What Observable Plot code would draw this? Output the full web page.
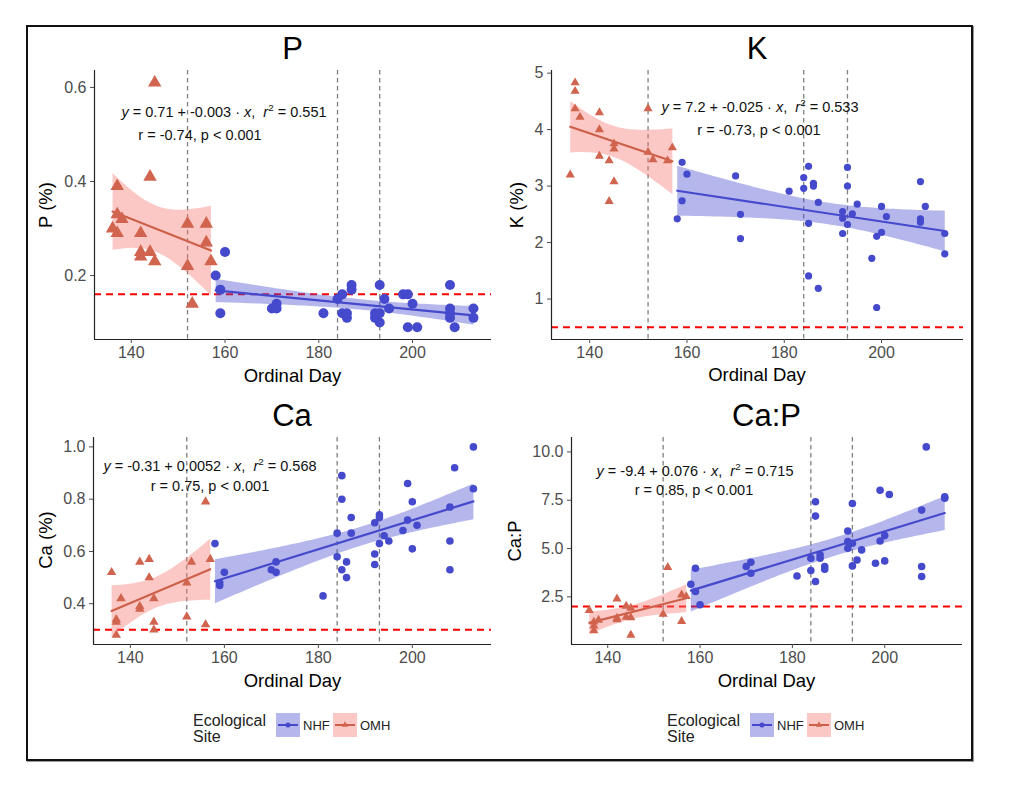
<!DOCTYPE html>
<html><head><meta charset="utf-8">
<script src="https://cdn.jsdelivr.net/npm/d3@7"></script>
<script src="https://cdn.jsdelivr.net/npm/@observablehq/plot@0.6"></script>
<style>
body{margin:0;width:1024px;height:789px;background:#fff;position:relative;font-family:"Liberation Sans",Arial,Helvetica,sans-serif;overflow:hidden}
.abs{position:absolute}
.ctr{transform:translate(-50%,-50%);white-space:nowrap;line-height:1}
.title{font-size:31px;color:#000}
.axt{font-size:18.5px;color:#000}
.eq{font-size:14.5px;color:#111}
.eq sup{font-size:0.68em;vertical-align:0.55em;line-height:0}
.legt{font-size:16px;line-height:16.3px;color:#222}
.legl{font-size:13px;color:#222}
</style></head><body>
<script>
// ---------- data ----------
const SITES = ["NHF", "OMH"];
const VLINE_DAYS = [152, 184, 193];
const X_TICKS = [140, 160, 180, 200];

// [ordinal day, value]
const P_OMH = [[136,0.30],[137,0.39],[137,0.33],[137,0.29],[138,0.32],[142,0.29],[142,0.25],[142,0.24],[144,0.41],[144,0.25],[145,0.61],[145,0.23],[152,0.31],[152,0.22],[153,0.14],[156,0.31],[156,0.27],[157,0.23]];
const P_NHF = [[158,0.20],[159,0.17],[159,0.12],[160,0.25],[170,0.13],[171,0.14],[171,0.13],[181,0.12],[184,0.15],[185,0.16],[185,0.12],[186,0.12],[186,0.11],[187,0.18],[187,0.17],[192,0.12],[192,0.11],[193,0.18],[193,0.12],[193,0.10],[194,0.15],[195,0.13],[198,0.16],[199,0.16],[199,0.09],[200,0.14],[201,0.09],[208,0.18],[208,0.13],[208,0.12],[208,0.11],[209,0.09],[213,0.13],[213,0.11]];
const P_THRESHOLD = 0.16;
const P_TICKS = [0.2, 0.4, 0.6];

const K_OMH = [[136,3.20],[137,4.83],[137,4.68],[137,4.37],[138,4.22],[142,4.30],[142,4.00],[142,3.53],[144,3.45],[144,2.73],[145,3.75],[145,3.66],[145,3.08],[152,4.37],[152,3.60],[153,3.47],[156,3.45],[157,3.68]];
const K_NHF = [[158,2.42],[159,3.42],[159,2.74],[160,3.21],[170,3.18],[171,2.50],[171,2.07],[181,2.91],[184,3.15],[184,2.96],[185,3.35],[185,2.34],[185,1.41],[186,3.05],[186,3.00],[187,2.71],[187,1.19],[192,2.55],[192,2.43],[192,2.16],[193,3.33],[193,3.00],[193,2.32],[194,2.51],[195,2.68],[198,1.72],[199,2.11],[199,0.85],[200,2.64],[200,2.18],[201,2.46],[208,3.08],[208,2.42],[208,2.36],[209,2.64],[213,2.16],[213,1.80]];
const K_THRESHOLD = 0.5;
const K_TICKS = [1, 2, 3, 4, 5];

const CA_OMH = [[136,0.52],[137,0.34],[137,0.33],[137,0.28],[138,0.42],[142,0.56],[142,0.39],[142,0.38],[144,0.57],[144,0.50],[145,0.42],[145,0.33],[145,0.30],[152,0.48],[152,0.35],[153,0.56],[156,0.79],[156,0.32],[157,0.57]];
const CA_NHF = [[158,0.63],[159,0.48],[159,0.47],[160,0.52],[170,0.53],[171,0.56],[171,0.52],[181,0.43],[184,0.67],[184,0.58],[185,0.89],[185,0.80],[185,0.53],[186,0.56],[186,0.50],[187,0.73],[187,0.67],[192,0.71],[192,0.59],[192,0.55],[193,0.74],[193,0.73],[193,0.63],[194,0.66],[195,0.64],[198,0.68],[199,0.86],[199,0.72],[200,0.79],[200,0.61],[201,0.70],[208,0.77],[208,0.64],[208,0.53],[209,0.92],[213,1.00],[213,0.84]];
const CA_THRESHOLD = 0.3;
const CA_TICKS = [0.4, 0.6, 0.8, 1.0];

const CAP_OMH = [[136,1.80],[137,1.20],[137,1.00],[137,0.75],[138,1.30],[142,2.40],[142,1.40],[142,1.32],[144,2.02],[144,1.45],[145,1.92],[145,1.43],[145,0.52],[152,1.60],[153,4.03],[156,2.60],[156,1.23],[157,2.52]];
const CAP_NHF = [[158,3.15],[159,3.98],[159,2.78],[160,2.09],[170,4.07],[171,4.29],[171,3.72],[181,3.58],[184,4.50],[184,3.86],[185,7.42],[185,6.68],[185,3.29],[186,4.67],[186,4.50],[187,4.07],[187,3.93],[192,5.91],[192,5.36],[192,5.01],[193,7.33],[193,5.27],[193,4.10],[194,4.41],[195,4.93],[198,4.24],[199,8.02],[199,5.39],[200,5.67],[200,4.36],[201,7.80],[208,6.99],[208,4.07],[208,3.55],[209,10.26],[213,7.68],[213,7.60]];
const CAP_THRESHOLD = 2.0;
const CAP_TICKS = [2.5, 5.0, 7.5, 10.0];

// ---------- styles ----------
const COLORS = {
  NHF: {point: "#4549cc", line: "#4549cc", band: "#4549cc"},
  OMH: {point: "#d1644e", line: "#cd604a", band: "#f8766d"}
};
const SYMBOLS = {NHF: "circle", OMH: "triangle"};
const FONT = '"Liberation Sans", Arial, Helvetica, sans-serif';

const panels = [
  {title: "P", ylab: "P (%)", NHF: P_NHF, OMH: P_OMH, thr: P_THRESHOLD, ticks: P_TICKS, fmt: d3.format(".1f"),
   rC: 5, rT: 5,
   box: {left: 30, top: 55, width: 470, height: 314, ml: 64, mr: 9, mt: 15, mb: 30},
   titlePos: [292.5, 48], xlabPos: [292.5, 376], ylabPos: [46, 205],
   eq1: ['<i>y</i> = 0.71 + -0.003 · <i>x</i>,&nbsp; <i>r</i><sup>2</sup> = 0.551', 224, 112],
   eq2: ['r = -0.74, p &lt; 0.001', 200, 135]},
  {title: "K", ylab: "K (%)", NHF: K_NHF, OMH: K_OMH, thr: K_THRESHOLD, ticks: K_TICKS, fmt: d3.format("d"),
   rC: 3.6, rT: 3.4,
   box: {left: 505, top: 55, width: 465, height: 314, ml: 46, mr: 7, mt: 15, mb: 30},
   titlePos: [757, 48], xlabPos: [757, 375], ylabPos: [517, 205],
   eq1: ['<i>y</i> = 7.2 + -0.025 · <i>x</i>,&nbsp; <i>r</i><sup>2</sup> = 0.533', 760, 107],
   eq2: ['r = -0.73, p &lt; 0.001', 759, 129.5]},
  {title: "Ca", ylab: "Ca (%)", NHF: CA_NHF, OMH: CA_OMH, thr: CA_THRESHOLD, ticks: CA_TICKS, fmt: d3.format(".1f"),
   rC: 3.8, rT: 3.5,
   box: {left: 30, top: 422, width: 470, height: 252, ml: 63, mr: 9, mt: 15, mb: 30},
   titlePos: [292, 415], xlabPos: [292.5, 681], ylabPos: [46, 540],
   eq1: ['<i>y</i> = -0.31 + 0.0052 · <i>x</i>,&nbsp; <i>r</i><sup>2</sup> = 0.568', 210, 465.5],
   eq2: ['r = 0.75, p &lt; 0.001', 210, 486]},
  {title: "Ca:P", ylab: "Ca:P", NHF: CAP_NHF, OMH: CAP_OMH, thr: CAP_THRESHOLD, ticks: CAP_TICKS, fmt: d3.format(".1f"),
   rC: 3.8, rT: 3.4,
   box: {left: 505, top: 422, width: 465, height: 252, ml: 66, mr: 8, mt: 15, mb: 30},
   titlePos: [766.5, 415], xlabPos: [766.5, 681], ylabPos: [515, 541],
   eq1: ['<i>y</i> = -9.4 + 0.076 · <i>x</i>,&nbsp; <i>r</i><sup>2</sup> = 0.715', 695, 471],
   eq2: ['r = 0.85, p &lt; 0.001', 694, 490]}
];

const legends = [{cx: 292.5, top: 712.5}, {cx: 766.5, top: 712.5}];

// ---------- helpers ----------
function expand([a, b], f = 0.05) { const d = (b - a) * f; return [a - d, b + d]; }
function addDiv(cls, html, x, y, extra = "") {
  const el = document.createElement("div");
  el.className = "abs " + cls;
  el.innerHTML = html;
  el.style.cssText += `left:${x}px;top:${y}px;` + extra;
  document.body.appendChild(el);
  return el;
}

const allDays = panels.flatMap(p => SITES.flatMap(s => p[s].map(d => d[0])));
const xDomain = expand(d3.extent(allDays));

// ---------- frame ----------
addDiv("", "", 26, 25, "width:947px;height:736px;border:2px solid #111;box-sizing:border-box;box-shadow:1px 1px 0 #999;");

// ---------- panels ----------
for (const p of panels) {
  const vals = SITES.flatMap(s => p[s].map(d => d[1])).concat([p.thr]);
  const yDomain = expand(d3.extent(vals));
  const b = p.box;
  const marks = [
    Plot.ruleX(VLINE_DAYS, {stroke: "#808080", strokeWidth: 1.3, strokeDasharray: "4.5,3.5"}),
    Plot.ruleY([p.thr], {stroke: "#ff0000", strokeWidth: 2, strokeDasharray: "7,5"}),
  ];
  for (const s of SITES) {
    marks.push(Plot.linearRegressionY(p[s], {x: d => d[0], y: d => d[1], ci: 0.95,
      stroke: COLORS[s].line, strokeWidth: 2.2, fill: COLORS[s].band, fillOpacity: 0.4}));
  }
  for (const s of SITES) {
    marks.push(Plot.dot(p[s], {x: d => d[0], y: d => d[1], symbol: SYMBOLS[s],
      r: s === "NHF" ? p.rC : p.rT, fill: COLORS[s].point, stroke: "none"}));
  }
  marks.push(
    Plot.ruleY([yDomain[0]], {stroke: "#222", strokeWidth: 1.2}),
    Plot.ruleX([xDomain[0]], {stroke: "#222", strokeWidth: 1.2}),
    Plot.axisX({ticks: X_TICKS, tickSize: 4, tickPadding: 3, fontSize: 16, label: null}),
    Plot.axisY({ticks: p.ticks, tickFormat: p.fmt, tickSize: 4, tickPadding: 4, fontSize: 16, label: null})
  );
  const svg = Plot.plot({
    width: b.width, height: b.height,
    marginLeft: b.ml, marginRight: b.mr, marginTop: b.mt, marginBottom: b.mb,
    x: {domain: xDomain},
    y: {domain: yDomain},
    style: {background: "transparent", color: "#4d4d4d", fontFamily: FONT, overflow: "visible"},
    marks
  });
  svg.style.position = "absolute";
  svg.style.left = b.left + "px";
  svg.style.top = b.top + "px";
  svg.style.maxWidth = "none";
  document.body.appendChild(svg);

  addDiv("ctr title", p.title, p.titlePos[0], p.titlePos[1]);
  addDiv("ctr axt", "Ordinal Day", p.xlabPos[0], p.xlabPos[1]);
  addDiv("ctr axt", p.ylab, p.ylabPos[0], p.ylabPos[1], "transform:translate(-50%,-50%) rotate(-90deg);");
  addDiv("ctr eq", p.eq1[0], p.eq1[1], p.eq1[2]);
  addDiv("ctr eq", p.eq2[0], p.eq2[1], p.eq2[2]);
}

// ---------- legends ----------
for (const lg of legends) {
  const x0 = lg.cx - 99.5;
  addDiv("legt", "Ecological<br>Site", x0, lg.top);
  let kx = x0 + 83;
  for (const s of SITES) {
    const svg = d3.create("svg").attr("width", 24).attr("height", 24)
      .style("position", "absolute").style("left", kx + "px").style("top", "713px");
    svg.append("rect").attr("width", 24).attr("height", 24).attr("fill", COLORS[s].band).attr("fill-opacity", 0.4);
    svg.append("line").attr("x1", 2).attr("x2", 22).attr("y1", 12).attr("y2", 12)
      .attr("stroke", COLORS[s].line).attr("stroke-width", 2);
    const sym = s === "NHF" ? d3.symbolCircle : d3.symbolTriangle;
    svg.append("path").attr("transform", "translate(12,12)")
      .attr("d", d3.symbol(sym, s === "NHF" ? 20 : 18)()).attr("fill", COLORS[s].point);
    document.body.appendChild(svg.node());
    addDiv("legl", s, kx + 27, 718);
    kx += 57;
  }
}
</script>
</body></html>
